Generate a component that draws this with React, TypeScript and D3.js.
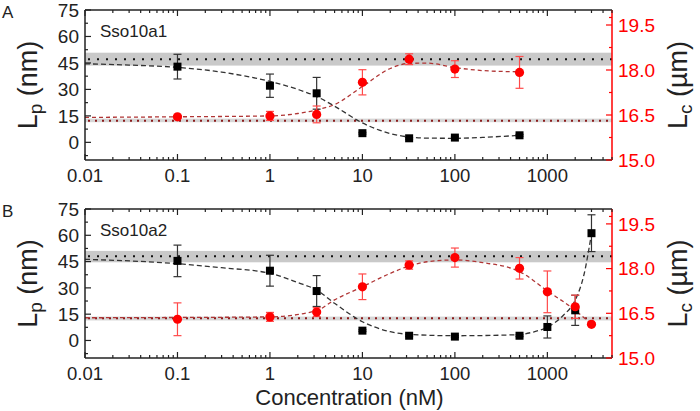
import React from 'react';
import * as d3 from 'd3';

// ---------- data ----------
const concA = [0.1, 1, 3.2, 10, 32, 100, 500];
const lpA = [42.9, 32.1, 27.8, 5.2, 2.3, 2.7, 4.0];
const lpErrA = [7, 6.6, 9, 0.5, 0.5, 0.5, 0.5];
const lcA = [16.44, 16.47, 16.52, 17.59, 18.36, 18.03, 17.92];
const lcErrA = [0.04, 0.15, 0.28, 0.42, 0.18, 0.28, 0.53];

const fitLpAx = [0.01, 0.03, 0.1, 0.3, 1, 2, 3.2, 5, 10, 20, 32, 50, 100, 200, 500];
const fitLpAy = [44.5, 43.8, 42.5, 39.8, 34.5, 30, 26, 20.5, 11, 5, 3, 2.4, 2.3, 2.8, 4];
const fitLcAx = [0.01, 0.1, 1, 2, 3.2, 5, 10, 20, 32, 50, 100, 200, 500];
const fitLcAy = [16.42, 16.44, 16.47, 16.55, 16.67, 16.85, 17.45, 18.05, 18.22, 18.23, 18.08, 17.98, 17.94];

const concB = [0.1, 1, 3.2, 10, 32, 100, 500, 1000, 2000, 3000];
const lpB = [45.4, 39.8, 28.2, 5.6, 2.7, 2.2, 2.7, 7.7, 17.2, 61.2];
const lpErrB = [9, 8.8, 8.8, 0.5, 0.5, 0.5, 0.5, 6.3, 8.6, 10.5];
const lcB = [16.3, 16.38, 16.54, 17.39, 18.12, 18.37, 18.01, 17.22, 16.72, 16.13];
const lcErrB = [0.55, 0.15, 0.15, 0.43, 0.14, 0.32, 0.36, 0.7, 0.39, 0.04];

const fitLpBx = [0.01, 0.1, 0.3, 1, 2, 3.2, 5, 10, 20, 32, 100, 300, 500, 700, 1000, 1500, 2000, 2500, 3000];
const fitLpBy = [46.3, 43.8, 41.5, 38.3, 33, 28.8, 21.2, 10.7, 5, 3.5, 2.7, 3.0, 3.4, 4.8, 7.6, 14.5, 23, 38, 61];
const fitLcBx = [0.01, 0.1, 1, 3.2, 5, 10, 20, 32, 50, 100, 200, 500, 1000, 2000, 3000];
const fitLcBy = [16.35, 16.36, 16.38, 16.59, 16.95, 17.39, 17.84, 18.09, 18.23, 18.29, 18.2, 17.9, 17.25, 16.6, 16.13];

// reference bands: [low, line, high]
const bandLpA = [43.5, 47.1, 50.8];
const bandLcA = [16.26, 16.31, 16.38];
const bandLpB = [44.6, 48, 51.1];
const bandLcB = [16.26, 16.33, 16.39];

const lpTicks = [0, 15, 30, 45, 60, 75];
const lcTicks = [15.0, 16.5, 18.0, 19.5];
const xTickValues = [0.01, 0.1, 1, 10, 100, 1000];
const xTickLabels = ['0.01', '0.1', '1', '10', '100', '1000'];

const FONT = '"Liberation Sans", Arial, Helvetica, sans-serif';
const X0 = 85;
const X1 = 612;
const x = d3.scaleLog().domain([0.01, 5000]).range([X0, X1]);

type PanelProps = {
  top: number; bottom: number; letter: string; name: string;
  conc: number[]; lp: number[]; lpErr: number[]; lc: number[]; lcErr: number[];
  fLpX: number[]; fLpY: number[]; fLcX: number[]; fLcY: number[];
  bandLp: number[]; bandLc: number[];
};

function Panel(p: PanelProps) {
  const yL = d3.scaleLinear().domain([-10, 75]).range([p.bottom, p.top]);
  const yR = d3.scaleLinear().domain([15, 20]).range([p.bottom, p.top]);
  const lineL = d3.line<number>().x((_, i) => x(p.fLpX[i])).y((d) => yL(d)).curve(d3.curveMonotoneX);
  const lineR = d3.line<number>().x((_, i) => x(p.fLcX[i])).y((d) => yR(d)).curve(d3.curveMonotoneX);
  const allX = x.ticks();
  const lpMinor = lpTicks.map((t) => t - 7.5);
  const lcMinor = lcTicks.slice(0, -1).map((t) => t + 0.75).concat([20 - 0.5 + 0.25]);
  const mid = (p.top + p.bottom) / 2;
  const frame = '#222';
  return (
    <g>
      <text x={2} y={p.top + 8} fontFamily={FONT} fontSize={17} fill="#222">{p.letter}</text>
      {/* bands */}
      <rect x={X0} width={X1 - X0} y={yL(p.bandLp[2])} height={yL(p.bandLp[0]) - yL(p.bandLp[2])} fill="#c9c9c9" />
      <rect x={X0} width={X1 - X0} y={yR(p.bandLc[2])} height={yR(p.bandLc[0]) - yR(p.bandLc[2])} fill="#d6d6d6" />
      <line x1={X0 + 3} x2={X1} y1={yL(p.bandLp[1])} y2={yL(p.bandLp[1])} stroke="#111" strokeWidth={2} strokeDasharray="2,7" />
      <line x1={X0 + 3} x2={X1} y1={yR(p.bandLc[1])} y2={yR(p.bandLc[1])} stroke="#8b1a1a" strokeWidth={2} strokeDasharray="2,5" />
      {/* fits */}
      <path d={lineL(p.fLpY) || ''} fill="none" stroke="#333" strokeWidth={1.3} strokeDasharray="5,3" />
      <path d={lineR(p.fLcY) || ''} fill="none" stroke="#b03535" strokeWidth={1.3} strokeDasharray="4,3" />
      {/* error bars */}
      {p.conc.map((c, i) => {
        const cx = x(c);
        const a = yL(p.lp[i] + p.lpErr[i]);
        const b = yL(p.lp[i] - p.lpErr[i]);
        return (
          <g key={'le' + i} stroke="#333" strokeWidth={1.2}>
            <line x1={cx} x2={cx} y1={a} y2={b} />
            <line x1={cx - 4} x2={cx + 4} y1={a} y2={a} />
            <line x1={cx - 4} x2={cx + 4} y1={b} y2={b} />
          </g>
        );
      })}
      {p.conc.map((c, i) => {
        const cx = x(c);
        const a = yR(p.lc[i] + p.lcErr[i]);
        const b = yR(p.lc[i] - p.lcErr[i]);
        return (
          <g key={'re' + i} stroke="#ff4a4a" strokeWidth={1.2}>
            <line x1={cx} x2={cx} y1={a} y2={b} />
            <line x1={cx - 4} x2={cx + 4} y1={a} y2={a} />
            <line x1={cx - 4} x2={cx + 4} y1={b} y2={b} />
          </g>
        );
      })}
      {/* markers */}
      {p.conc.map((c, i) => (
        <rect key={'s' + i} x={x(c) - 4} y={yL(p.lp[i]) - 4} width={8} height={8} fill="#000" />
      ))}
      {p.conc.map((c, i) => (
        <circle key={'c' + i} cx={x(c)} cy={yR(p.lc[i])} r={4.6} fill="#ff0000" />
      ))}
      {/* frame */}
      <line x1={X0} x2={X0} y1={p.top} y2={p.bottom} stroke={frame} strokeWidth={1.5} />
      <line x1={X0} x2={X1} y1={p.top} y2={p.top} stroke={frame} strokeWidth={1.5} />
      <line x1={X0} x2={X1} y1={p.bottom} y2={p.bottom} stroke={frame} strokeWidth={1.5} />
      <line x1={X1} x2={X1} y1={p.top} y2={p.bottom} stroke="#ff0000" strokeWidth={1.5} />
      {/* x ticks */}
      {allX.map((t, i) => {
        const major = xTickValues.some((v) => Math.abs(v - t) / v < 1e-6);
        const len = major ? 6 : 3;
        return (
          <g key={'xt' + i} stroke={frame} strokeWidth={1.2}>
            <line x1={x(t)} x2={x(t)} y1={p.bottom} y2={p.bottom - len} />
            <line x1={x(t)} x2={x(t)} y1={p.top} y2={p.top + len} />
          </g>
        );
      })}
      {xTickValues.map((t, i) => (
        <text key={'xl' + i} x={x(t)} y={p.bottom + 22} textAnchor="middle" fontFamily={FONT} fontSize={18.5} fill="#222">{xTickLabels[i]}</text>
      ))}
      {/* left ticks */}
      {lpTicks.map((t, i) => (
        <g key={'yl' + i}>
          <line x1={X0} x2={X0 + 6} y1={yL(t)} y2={yL(t)} stroke={frame} strokeWidth={1.2} />
          <text x={X0 - 6} y={yL(t)} dy="0.36em" textAnchor="end" fontFamily={FONT} fontSize={19} fill="#222">{t}</text>
        </g>
      ))}
      {lpMinor.map((t, i) => (
        <line key={'ylm' + i} x1={X0} x2={X0 + 3} y1={yL(t)} y2={yL(t)} stroke={frame} strokeWidth={1.2} />
      ))}
      {/* right ticks */}
      {lcTicks.map((t, i) => (
        <g key={'yr' + i}>
          <line x1={X1} x2={X1 - 6} y1={yR(t)} y2={yR(t)} stroke="#ff0000" strokeWidth={1.2} />
          <text x={X1 + 6} y={yR(t)} dy="0.36em" textAnchor="start" fontFamily={FONT} fontSize={19} fill="#ff0000">{t.toFixed(1)}</text>
        </g>
      ))}
      {lcMinor.map((t, i) => (
        <line key={'yrm' + i} x1={X1} x2={X1 - 3} y1={yR(t)} y2={yR(t)} stroke="#ff0000" strokeWidth={1.2} />
      ))}
      {/* name */}
      <text x={100} y={p.top + 27} fontFamily={FONT} fontSize={17} fill="#222">{p.name}</text>
      {/* axis titles */}
      <text transform={`translate(37,${mid}) rotate(-90)`} textAnchor="middle" fontFamily={FONT} fontSize={27} fill="#222">
        L<tspan fontSize={19} dy="5">p</tspan><tspan dy="-5"> (nm)</tspan>
      </text>
      <text transform={`translate(687,${mid}) rotate(-90)`} textAnchor="middle" fontFamily={FONT} fontSize={27} fill="#222">
        L<tspan fontSize={19} dy="5">c</tspan><tspan dy="-5"> (µm)</tspan>
      </text>
    </g>
  );
}

export default function App() {
  return (
    <svg width={700} height={411} style={{ position: 'absolute', left: 0, top: 0, background: '#fff' }}>
      <rect width={700} height={411} fill="#fff" />
      <Panel top={10} bottom={160} letter="A" name="Sso10a1" conc={concA} lp={lpA} lpErr={lpErrA} lc={lcA} lcErr={lcErrA}
        fLpX={fitLpAx} fLpY={fitLpAy} fLcX={fitLcAx} fLcY={fitLcAy} bandLp={bandLpA} bandLc={bandLcA} />
      <Panel top={209} bottom={358} letter="B" name="Sso10a2" conc={concB} lp={lpB} lpErr={lpErrB} lc={lcB} lcErr={lcErrB}
        fLpX={fitLpBx} fLpY={fitLpBy} fLcX={fitLcBx} fLcY={fitLcBy} bandLp={bandLpB} bandLc={bandLcB} />
      <text x={(X0 + X1) / 2 + 1} y={405} textAnchor="middle" fontFamily={FONT} fontSize={22} fill="#222">Concentration (nM)</text>
    </svg>
  );
}
